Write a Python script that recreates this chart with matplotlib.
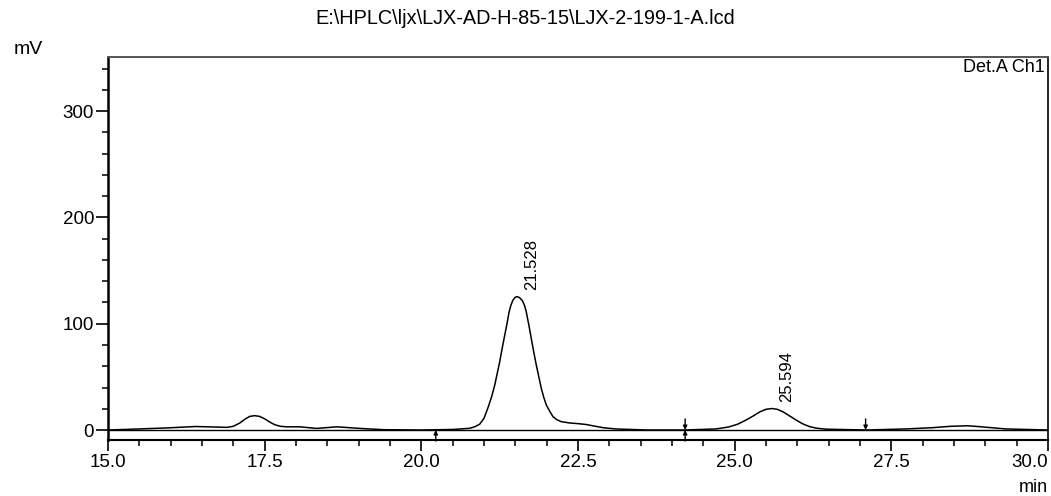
import matplotlib
matplotlib.use("Agg")
import matplotlib.pyplot as plt
from matplotlib.ticker import MultipleLocator

plt.rcParams['font.family'] = ['Liberation Sans', 'DejaVu Sans']

# Detector trace (retention time in min, signal in mV)
time_min = [15.0, 15.5, 15.95, 16.4, 16.9, 17.0, 17.1, 17.18, 17.26, 17.34,
            17.42, 17.5, 17.58, 17.66, 17.75, 17.85, 18.06, 18.33, 18.65, 19.02,
            19.4, 20.0, 20.5, 20.77, 20.85, 20.93, 21.0, 21.06, 21.12, 21.17,
            21.21, 21.25, 21.29, 21.33, 21.37, 21.40, 21.43, 21.46, 21.495, 21.528,
            21.565, 21.61, 21.645, 21.675, 21.715, 21.755, 21.795, 21.835, 21.875, 21.915,
            21.955, 21.995, 22.05, 22.10, 22.16, 22.23, 22.37, 22.5, 22.63, 22.77,
            22.9, 23.1, 23.6, 24.2, 24.7, 24.9, 25.05, 25.17, 25.29, 25.4,
            25.5, 25.594, 25.68, 25.77, 25.87, 25.98, 26.08, 26.19, 26.3, 26.45,
            27.1, 27.73, 28.16, 28.45, 28.72, 28.9, 29.33, 30.0]
signal_mv = [0.0, 1.0, 2.0, 3.3, 2.5, 3.5, 6.5, 10.0, 12.8, 13.5,
             12.8, 10.5, 7.5, 5.0, 3.5, 3.0, 3.0, 1.5, 3.0, 1.5,
             0.3, 0.0, 0.5, 1.6, 3.0, 5.4, 11.0, 20.4, 31.0, 42.0,
             53.0, 64.0, 77.0, 89.0, 101.0, 111.0, 117.5, 122.0, 124.8, 125.5,
             124.6, 122.0, 117.5, 111.0, 99.0, 86.0, 73.0, 61.0, 50.0, 39.0,
             30.5, 23.5, 17.5, 12.6, 9.8, 7.9, 6.6, 6.0, 5.2, 3.6,
             2.2, 1.0, 0.0, 0.0, 1.0, 2.8, 5.5, 9.0, 13.0, 17.0,
             19.5, 20.2, 19.5, 17.2, 13.5, 9.4, 6.0, 3.3, 1.8, 0.8,
             0.0, 1.0, 2.2, 3.5, 4.0, 3.2, 1.0, 0.0]

# Axis ticks
x_ticks = [15.0, 17.5, 20.0, 22.5, 25.0, 27.5, 30.0]
x_tick_labels = ["15.0", "17.5", "20.0", "22.5", "25.0", "27.5", "30.0"]
y_ticks = [0, 100, 200, 300]
y_tick_labels = ["0", "100", "200", "300"]

# Integrated peaks
peak_rt = [21.528, 25.594]
peak_height = [125.5, 20.2]
peak_labels = ["21.528", "25.594"]

# Integration event markers
peak_start = [20.23, 24.21]
peak_end = [24.21, 27.09]

title_text = r"E:\HPLC\ljx\LJX-AD-H-85-15\LJX-2-199-1-A.lcd"
channel_text = "Det.A Ch1"

fig = plt.figure(figsize=(10.51, 4.96), dpi=100)
ax = fig.add_axes([0.1028, 0.1129, 0.8943, 0.7722])

ax.plot(time_min, signal_mv, color="black", lw=1.1, zorder=3)
ax.axhline(0, color="black", lw=1.0, zorder=2)

for rt, h, lab in zip(peak_rt, peak_height, peak_labels):
    ax.annotate(lab, xy=(rt, h), xytext=(5, 5), textcoords="offset points",
                rotation=90, ha="left", va="bottom", fontsize=12)

arrow_kw = dict(arrowstyle="-|>", color="black", lw=1.0,
                mutation_scale=6, shrinkA=0, shrinkB=0)
for t in peak_start:
    ax.annotate("", xy=(t, 0), xytext=(0, -8), textcoords="offset points",
                arrowprops=arrow_kw)
for t in peak_end:
    ax.annotate("", xy=(t, 0), xytext=(0, 8), textcoords="offset points",
                arrowprops=arrow_kw)

ax.set_xlim(15.0, 30.0)
ax.set_ylim(-9.4, 351)

ax.set_xticks(x_ticks)
ax.set_xticklabels(x_tick_labels)
ax.set_yticks(y_ticks)
ax.set_yticklabels(y_tick_labels)
ax.xaxis.set_minor_locator(MultipleLocator(0.5))
ax.yaxis.set_minor_locator(MultipleLocator(20))

ax.tick_params(axis="both", which="major", direction="out", labelsize=13.5,
               width=1.2, color="black")
ax.tick_params(axis="x", which="major", length=8, pad=2)
ax.tick_params(axis="y", which="major", length=9, pad=1)
ax.tick_params(axis="both", which="minor", direction="out", length=4, width=1.1)

# keep the final x label inside the figure edge
ax.get_xticklabels()[-1].set_horizontalalignment("right")

ax.spines["left"].set_linewidth(1.8)
ax.spines["bottom"].set_linewidth(1.5)
ax.spines["top"].set_linewidth(1.4)
ax.spines["top"].set_color("#555555")
ax.spines["right"].set_linewidth(1.2)

ax.text(0.997, 0.994, channel_text, transform=ax.transAxes,
        ha="right", va="top", fontsize=13)

fig.text(0.5, 1 - 18 / 496, title_text, ha="center", va="center", fontsize=14.3)
fig.text(28 / 1051, 1 - 49 / 496, "mV", ha="center", va="center", fontsize=14)
fig.text(1048 / 1051, 1 - 487 / 496, "min", ha="right", va="center", fontsize=13)

fig.savefig("out.png", dpi=100)
